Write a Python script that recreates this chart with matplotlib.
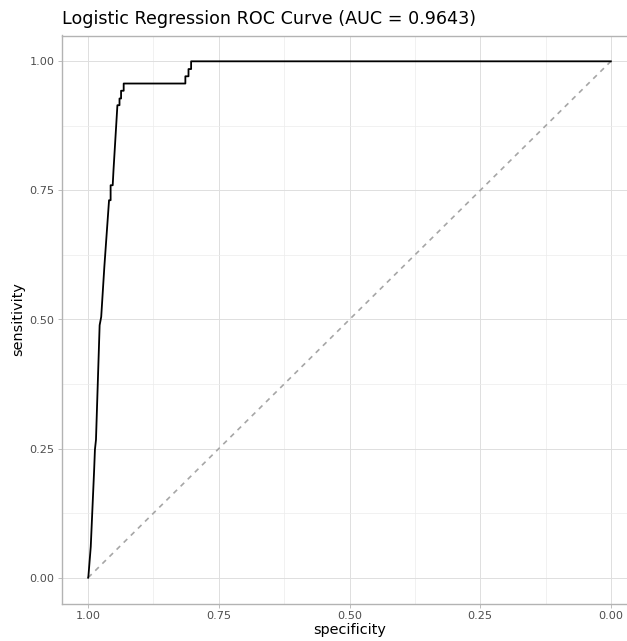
import matplotlib.pyplot as plt
import numpy as np

# ROC curve vertices (specificity, sensitivity)
specificity = [1.000, 0.9995, 0.995, 0.9885, 0.987, 0.985, 0.978, 0.975, 0.969,
               0.960, 0.957, 0.957, 0.953, 0.9515, 0.944, 0.940, 0.940, 0.937,
               0.937, 0.932, 0.932, 0.814, 0.814, 0.808, 0.808, 0.803, 0.803, 0.000]
sensitivity = [0.000, 0.0025, 0.060, 0.209, 0.248, 0.267, 0.489, 0.505, 0.602,
               0.731, 0.731, 0.760, 0.760, 0.789, 0.915, 0.915, 0.928, 0.928,
               0.943, 0.943, 0.957, 0.957, 0.971, 0.971, 0.985, 0.985, 1.000, 1.000]
auc = 0.9643

major_ticks = [1.00, 0.75, 0.50, 0.25, 0.00]
minor_ticks = [0.875, 0.625, 0.375, 0.125]

W, H = 627, 641
fig = plt.figure(figsize=(W / 100, H / 100), dpi=100)
ax = fig.add_axes([62 / W, (H - 603.5) / H, (637 - 62) / W, (603.5 - 35.5) / H])

grid_col = '#DEDEDE'
border_col = '#B3B3B3'

ax.set_xlim(1.05, -0.05)
ax.set_ylim(-0.05, 1.05)
ax.set_xticks(major_ticks)
ax.set_yticks(major_ticks)
ax.set_xticks(minor_ticks, minor=True)
ax.set_yticks(minor_ticks, minor=True)
ax.set_xticklabels(['%.2f' % t for t in major_ticks])
ax.set_yticklabels(['%.2f' % t for t in major_ticks])
ax.grid(True, which='major', color=grid_col, linewidth=0.7)
ax.grid(True, which='minor', color='#ECECEC', linewidth=0.5)
ax.set_axisbelow(True)

ax.tick_params(which='major', length=3, width=0.6, color=border_col,
               labelsize=8.1, labelcolor='#4D4D4D', pad=2.5)
ax.tick_params(which='minor', length=0)
for s in ax.spines.values():
    s.set_color(border_col)
    s.set_linewidth(1.0)
ax.spines['right'].set_visible(False)

# chance line
ax.plot([1, 0], [0, 1], color='#A6A6A6', linewidth=1.2, linestyle=(0, (3, 3)))
ax.plot(specificity, sensitivity, color='black', linewidth=1.3)

ax.set_xlabel('specificity', fontsize=10.4, labelpad=1)
ax.set_ylabel('sensitivity', fontsize=10.4, labelpad=3)

fig.text(62 / W, 1 - 19 / H, 'Logistic Regression ROC Curve (AUC = %.4f)' % auc,
         fontsize=12.6, ha='left', va='center')

fig.savefig('out.png', dpi=100)
